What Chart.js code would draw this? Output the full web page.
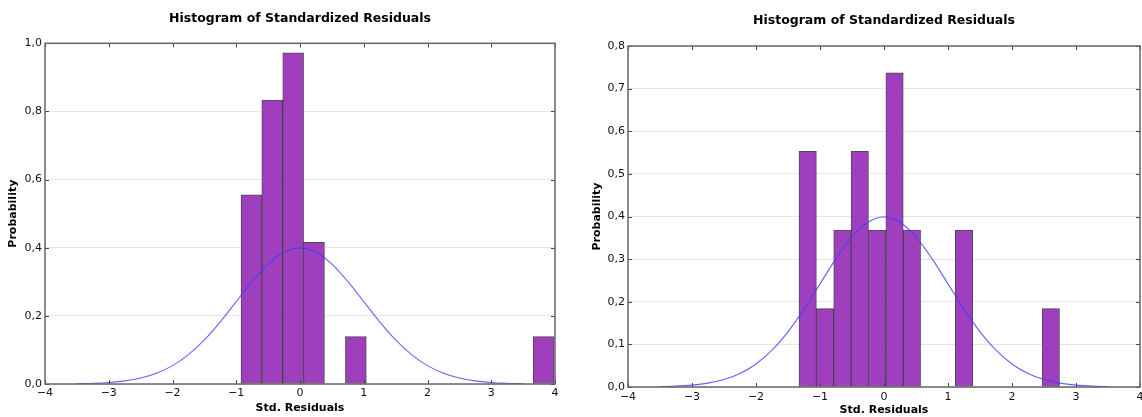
<!DOCTYPE html>
<html>
<head>
<meta charset="utf-8">
<script src="https://cdn.jsdelivr.net/npm/chart.js@4.4.0/dist/chart.umd.min.js"></script>
<style>
  html, body { margin: 0; padding: 0; background: #fff; }
  #wrap { position: relative; width: 1142px; height: 417px; overflow: hidden; }
  .box { position: absolute; top: 0; height: 417px; }
  #leftBox { left: 0; width: 575px; }
  #rightBox { left: 575px; width: 567px; }
</style>
</head>
<body>
<div id="wrap">
  <div class="box" id="leftBox"><canvas id="leftChart"></canvas></div>
  <div class="box" id="rightBox"><canvas id="rightChart"></canvas></div>
</div>
<script>
// ---------- Data ----------
var chartTitle = 'Histogram of Standardized Residuals';
var xAxisTitle = 'Std. Residuals';
var yAxisTitle = 'Probability';

// left histogram: bin centres and densities
var leftCenters = [-0.762, -0.435, -0.107, 0.220, 0.876, 3.823];
var leftHeights = [0.555, 0.833, 0.972, 0.416, 0.139, 0.139];

// right histogram
var rightCenters = [-1.192, -0.921, -0.650, -0.378, -0.107, 0.165, 0.436, 1.250, 2.607];
var rightHeights = [0.553, 0.184, 0.368, 0.553, 0.368, 0.737, 0.368, 0.368, 0.184];

// normal curve (same on both panels)
var curveX = [-3.5, -3.25, -3, -2.75, -2.5, -2.25, -2, -1.75, -1.5, -1.25, -1, -0.75, -0.5, -0.25, 0,
  0.25, 0.5, 0.75, 1, 1.25, 1.5, 1.75, 2, 2.25, 2.5, 2.75, 3, 3.25, 3.5];
var curveY = [0.0009, 0.0020, 0.0044, 0.0091, 0.0175, 0.0317, 0.0540, 0.0863, 0.1295, 0.1826, 0.2420, 0.3011, 0.3521, 0.3867, 0.3989,
  0.3867, 0.3521, 0.3011, 0.2420, 0.1826, 0.1295, 0.0863, 0.0540, 0.0317, 0.0175, 0.0091, 0.0044, 0.0020, 0.0009];

// ticks
var xTickValues = [-4, -3, -2, -1, 0, 1, 2, 3, 4];
var xTickLabels = ['\u22124', '\u22123', '\u22122', '\u22121', '0', '1', '2', '3', '4'];
var leftYTicks = [0, 0.2, 0.4, 0.6, 0.8, 1.0];
var leftYLabels = ['0,0', '0,2', '0,4', '0,6', '0,8', '1,0'];
var rightYTicks = [0, 0.1, 0.2, 0.3, 0.4, 0.5, 0.6, 0.7, 0.8];
var rightYLabels = ['0,0', '0,1', '0,2', '0,3', '0,4', '0,5', '0,6', '0,7', '0,8'];

Chart.defaults.font.family = "'DejaVu Sans', sans-serif";
Chart.defaults.color = '#111';

// frame + inward tick marks, matplotlib style
var framePlugin = {
  id: 'frame',
  afterDraw: function (chart) {
    var a = chart.chartArea, ctx = chart.ctx, xs = chart.scales.x, ys = chart.scales.y;
    ctx.save();
    ctx.strokeStyle = '#444';
    ctx.lineWidth = 1;
    ctx.beginPath();
    xs.ticks.forEach(function (t) {
      var px = Math.round(xs.getPixelForValue(t.value)) + 0.5;
      ctx.moveTo(px, a.top); ctx.lineTo(px, a.top + 4);
      ctx.moveTo(px, a.bottom); ctx.lineTo(px, a.bottom - 4);
    });
    ys.ticks.forEach(function (t) {
      var py = Math.round(ys.getPixelForValue(t.value)) + 0.5;
      ctx.moveTo(a.left, py); ctx.lineTo(a.left + 4, py);
      ctx.moveTo(a.right, py); ctx.lineTo(a.right - 4, py);
    });
    ctx.stroke();
    ctx.strokeStyle = '#666';
    ctx.lineWidth = 1.5;
    ctx.strokeRect(a.left, a.top, a.right - a.left, a.bottom - a.top);
    ctx.restore();
  }
};

function makeChart(id, centers, heights, yTicks, yLabels, yMax, g) {
  return new Chart(document.getElementById(id), {
    data: {
      datasets: [
        {
          type: 'line', order: 0,
          data: curveX.map(function (x, i) { return { x: x, y: curveY[i] }; }),
          borderColor: 'rgba(60,60,255,0.8)', borderWidth: 1.1,
          pointRadius: 0, fill: false, cubicInterpolationMode: 'monotone'
        },
        {
          type: 'bar', order: 1,
          data: centers.map(function (x, i) { return { x: x, y: heights[i] }; }),
          backgroundColor: '#a03fbd', borderColor: 'rgba(50,40,55,0.85)', borderWidth: 1,
          barPercentage: 1, categoryPercentage: 1, borderSkipped: false
        }
      ]
    },
    options: {
      responsive: true, maintainAspectRatio: false, animation: false,
      layout: { padding: { left: 0, right: g.padRight, top: 0, bottom: 0 } },
      plugins: {
        legend: { display: false }, tooltip: { enabled: false },
        title: {
          display: true, text: chartTitle, fullSize: false, color: '#000',
          font: { size: 12.5, weight: 'bold', lineHeight: 1.2 },
          padding: { top: g.titleTop, bottom: g.titleBottom }
        }
      },
      scales: {
        x: {
          type: 'linear', min: -4, max: 4, offset: false,
          afterBuildTicks: function (s) { s.ticks = xTickValues.map(function (v) { return { value: v }; }); },
          afterFit: function (s) { s.height = g.xHeight; s.paddingLeft = 0; s.paddingRight = 0; },
          grid: { display: false, drawTicks: false },
          border: { display: false },
          ticks: { padding: g.xTickPad, maxRotation: 0, autoSkip: false, font: { size: 11 },
            callback: function (v, i) { return xTickLabels[i]; } },
          title: { display: true, text: xAxisTitle, color: '#000', font: { size: 11, weight: 'bold', lineHeight: 1.2 },
            padding: { top: 0, bottom: g.xTitlePad } }
        },
        y: {
          min: 0, max: yMax, z: 1,
          afterBuildTicks: function (s) { s.ticks = yTicks.map(function (v) { return { value: v }; }); },
          afterFit: function (s) { s.width = g.yWidth; s.paddingTop = 0; s.paddingBottom = 0; },
          grid: { color: 'rgba(215,215,215,0.6)', lineWidth: 1, drawTicks: false },
          border: { display: false },
          ticks: { padding: 3, autoSkip: false, font: { size: 11 },
            callback: function (v, i) { return yLabels[i]; } },
          title: { display: true, text: yAxisTitle, color: '#000', font: { size: 11, weight: 'bold', lineHeight: 1.2 },
            padding: { top: g.yTitlePad, bottom: 0 } }
        }
      }
    },
    plugins: [framePlugin]
  });
}

makeChart('leftChart', leftCenters, leftHeights, leftYTicks, leftYLabels, 1.0,
  { yWidth: 45, xHeight: 33, padRight: 20, titleTop: 10.8, titleBottom: 17.5, yTitlePad: 7, xTitlePad: 2.7, xTickPad: 3 });
makeChart('rightChart', rightCenters, rightHeights, rightYTicks, rightYLabels, 0.8,
  { yWidth: 53, xHeight: 30, padRight: 2, titleTop: 13.4, titleBottom: 17.6, yTitlePad: 16, xTitlePad: 0, xTickPad: 4 });
</script>
</body>
</html>
